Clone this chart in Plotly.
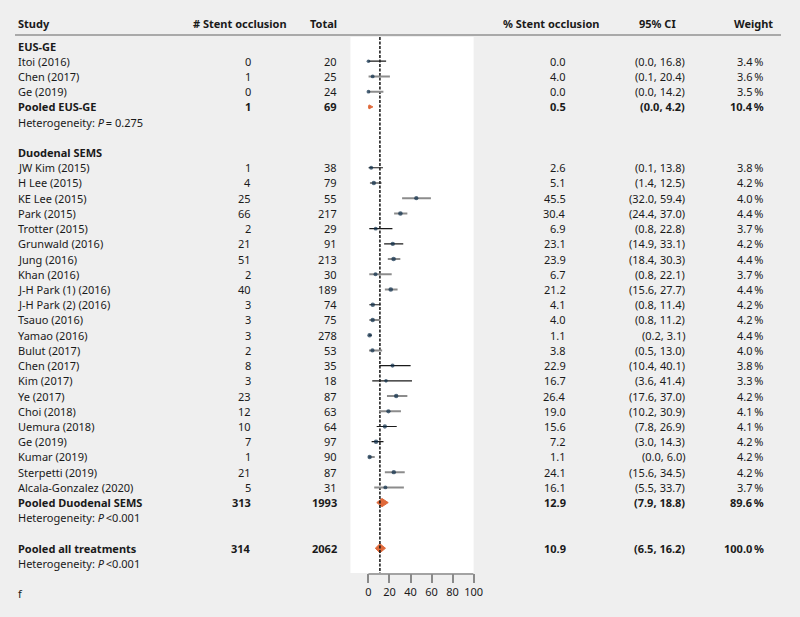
import plotly.graph_objects as go

# ---------------- data ----------------
eus_studies = ["Itoi (2016)", "Chen (2017)", "Ge (2019)"]
eus_events = [0, 1, 0]
eus_totals = [20, 25, 24]
eus_pct = [0.0, 4.0, 0.0]
eus_lo = [0.0, 0.1, 0.0]
eus_hi = [16.8, 20.4, 14.2]
eus_weight = [3.4, 3.6, 3.5]

duo_studies = ["JW Kim (2015)", "H Lee (2015)", "KE Lee (2015)", "Park (2015)", "Trotter (2015)",
               "Grunwald (2016)", "Jung (2016)", "Khan (2016)", "J-H Park (1) (2016)",
               "J-H Park (2) (2016)", "Tsauo (2016)", "Yamao (2016)", "Bulut (2017)",
               "Chen (2017)", "Kim (2017)", "Ye (2017)", "Choi (2018)", "Uemura (2018)",
               "Ge (2019)", "Kumar (2019)", "Sterpetti (2019)", "Alcala-Gonzalez (2020)"]
duo_events = [1, 4, 25, 66, 2, 21, 51, 2, 40, 3, 3, 3, 2, 8, 3, 23, 12, 10, 7, 1, 21, 5]
duo_totals = [38, 79, 55, 217, 29, 91, 213, 30, 189, 74, 75, 278, 53, 35, 18, 87, 63, 64, 97, 90, 87, 31]
duo_pct = [2.6, 5.1, 45.5, 30.4, 6.9, 23.1, 23.9, 6.7, 21.2, 4.1, 4.0, 1.1, 3.8, 22.9, 16.7,
           26.4, 19.0, 15.6, 7.2, 1.1, 24.1, 16.1]
duo_lo = [0.1, 1.4, 32.0, 24.4, 0.8, 14.9, 18.4, 0.8, 15.6, 0.8, 0.8, 0.2, 0.5, 10.4, 3.6,
          17.6, 10.2, 7.8, 3.0, 0.0, 15.6, 5.5]
duo_hi = [13.8, 12.5, 59.4, 37.0, 22.8, 33.1, 30.3, 22.1, 27.7, 11.4, 11.2, 3.1, 13.0, 40.1, 41.4,
          37.0, 30.9, 26.9, 14.3, 6.0, 34.5, 33.7]
duo_weight = [3.8, 4.2, 4.0, 4.4, 3.7, 4.2, 4.4, 3.7, 4.4, 4.2, 4.2, 4.4, 4.0, 3.8, 3.3,
              4.2, 4.1, 4.1, 4.2, 4.2, 4.2, 3.7]

group_names = ["EUS-GE", "Duodenal SEMS"]
pooled_names = ["Pooled EUS-GE", "Pooled Duodenal SEMS", "Pooled all treatments"]
pooled_events = [1, 313, 314]
pooled_totals = [69, 1993, 2062]
pooled_est = [0.5, 12.9, 10.9]
pooled_lo = [0.0, 7.9, 6.5]
pooled_hi = [4.2, 18.8, 16.2]
pooled_weight = [10.4, 89.6, 100.0]
het_p = ["= 0.275", "<0.001", "<0.001"]

x_ticks = [0, 20, 40, 60, 80, 100]

# ---------------- styles ----------------
W, H = 800, 617          # target picture size (layout coordinates below are in these pixels)
FIG_W = 810              # captured page width is slightly wider than 800; fill it
FONT = "Noto Sans"
FS = 11
TXT = "#1a1a1a"
BLACK_CI = "#1a1a1a"
GRAY_CI = "#8c8c8c"
eus_ci_style = ["k", "g", "g"]
duo_ci_style = ["k", "k", "g", "g", "k", "k", "g", "g", "g", "k", "g", "k", "g",
                "k", "k", "g", "g", "k", "k", "g", "g", "g"]
diamond_half = [0.13, 0.27, 0.30]
MARK_COL = "#0b2c48"
DIAMOND_COL = "#e0693a"

ROW0_PX = 46.0
ROW_H = 15.22
PANEL_TOP, PANEL_BOT = 37.0, 573.0
PANEL_L, PANEL_R = 350.0, 473.0


def px_to_row(p):
    return (p - ROW0_PX) / ROW_H


def px(xp):
    return xp / W


def py(yp):
    return 1 - yp / H


fig = go.Figure()
ann = []


def text(x, y, s, anchor="left", bold=False, yref="y"):
    if bold:
        s = "<b>" + s + "</b>"
    ann.append(dict(x=px(x), xref="paper", y=y, yref=yref, text=s, showarrow=False,
                    xanchor=anchor, yanchor="middle", borderpad=0, borderwidth=0,
                    font=dict(family=FONT, size=FS, color=TXT)))


def pct(v):
    return f"{v:.1f}\u2009%"


# headers
hy = py(24)
text(18, hy, "Study", bold=True, yref="paper")
text(287, hy, "# Stent occlusion", "right", True, "paper")
text(337, hy, "Total", "right", True, "paper")
text(598, hy, "% Stent occlusion", "right", True, "paper")
text(675, hy, "95% CI", "right", True, "paper")
text(772, hy, "Weight", "right", True, "paper")
text(18, py(593), "f", yref="paper")

groups = [
    (eus_studies, eus_events, eus_totals, eus_pct, eus_lo, eus_hi, eus_weight, eus_ci_style),
    (duo_studies, duo_events, duo_totals, duo_pct, duo_lo, duo_hi, duo_weight, duo_ci_style),
]

ci_x = {"k": [], "g": []}
ci_y = {"k": [], "g": []}
mx, my, ms = [], [], []
r = 0
pooled_rows = []
het_rows = []
for gi, (names, ev, tot, pc, lo, hi, wt, sty) in enumerate(groups):
    text(18, r, group_names[gi], bold=True)
    r += 1
    for i in range(len(names)):
        text(18, r, names[i])
        text(251, r, str(ev[i]), "right")
        text(337, r, str(tot[i]), "right")
        text(565, r, f"{pc[i]:.1f}", "right")
        text(684, r, f"({lo[i]:.1f}, {hi[i]:.1f})", "right")
        text(763, r, pct(wt[i]), "right")
        ci_x[sty[i]] += [lo[i], hi[i], None]
        ci_y[sty[i]] += [r, r, None]
        mx.append(pc[i]); my.append(r); ms.append(0.6 + wt[i] * 0.9)
        r += 1
    pooled_rows.append(r); r += 1
    het_rows.append(r); r += 2
pooled_rows.append(r); r += 1
het_rows.append(r)

for k in range(3):
    rr = pooled_rows[k]
    text(18, rr, pooled_names[k], bold=True)
    text(251, rr, str(pooled_events[k]), "right", True)
    text(337, rr, str(pooled_totals[k]), "right", True)
    text(565, rr, f"{pooled_est[k]:.1f}", "right", True)
    text(684, rr, f"({pooled_lo[k]:.1f}, {pooled_hi[k]:.1f})", "right", True)
    text(763, rr, pct(pooled_weight[k]), "right", True)
    text(18, het_rows[k], "Heterogeneity: <i>P</i>\u2009" + het_p[k])

    h = diamond_half[k]
    fig.add_trace(go.Scatter(
        x=[pooled_lo[k], pooled_est[k], pooled_hi[k], pooled_est[k], pooled_lo[k]],
        y=[rr, rr - h, rr, rr + h, rr],
        mode="lines", fill="toself", fillcolor=DIAMOND_COL,
        line=dict(color=DIAMOND_COL, width=1), hoverinfo="skip", showlegend=False))

y_top, y_bot = px_to_row(PANEL_TOP), px_to_row(PANEL_BOT)

# reference dashed line at overall pooled estimate
fig.add_trace(go.Scatter(x=[pooled_est[2], pooled_est[2]], y=[y_top, y_bot], mode="lines",
                         line=dict(color="#111111", width=1.5, dash="3px,1.5px"),
                         hoverinfo="skip", showlegend=False))

for key, col, lw in (("g", GRAY_CI, 2.0), ("k", BLACK_CI, 1.2)):
    fig.add_trace(go.Scatter(x=ci_x[key], y=ci_y[key], mode="lines",
                             line=dict(color=col, width=lw), hoverinfo="skip",
                             showlegend=False))

fig.add_trace(go.Scatter(x=mx, y=my, mode="markers",
                         marker=dict(symbol="circle", size=ms, color=MARK_COL,
                                     line=dict(width=0)),
                         showlegend=False))

x_lo = -(368 - PANEL_L) / ((PANEL_R - 368) / 100.0)

shapes = [
    dict(type="line", xref="paper", yref="paper", x0=px(15), x1=px(780), y0=py(35), y1=py(35),
         line=dict(color="#a9a9a9", width=2)),
    dict(type="line", xref="x", yref="paper", x0=x_ticks[0], x1=x_ticks[-1],
         y0=py(574), y1=py(574), line=dict(color="#8a8a8a", width=1.5)),
]

fig.update_layout(
    width=FIG_W, height=H, autosize=False,
    margin=dict(l=0, r=0, t=0, b=0),
    paper_bgcolor="#efefef", plot_bgcolor="#ffffff",
    annotations=ann, shapes=shapes,
    xaxis=dict(domain=[px(PANEL_L), px(PANEL_R)], range=[x_lo, 100], tickvals=x_ticks,
               ticks="outside", ticklen=9, tickwidth=1.5, tickcolor="#8a8a8a",
               showgrid=False, zeroline=False, showline=False, fixedrange=True,
               tickfont=dict(family=FONT, size=FS, color=TXT)),
    yaxis=dict(domain=[py(PANEL_BOT), py(PANEL_TOP)], range=[y_bot, y_top], fixedrange=True,
               showticklabels=False, showgrid=False, zeroline=False, showline=False),
    showlegend=False,
)

post = (
    "document.documentElement.style.margin='0px';"
    "document.body.style.margin='0px';"
    "document.documentElement.style.overflow='hidden';"
    "document.body.style.overflow='hidden';"
    "document.body.style.background='#efefef';"
)

fig.write_html("out.html", config={"displayModeBar": False, "responsive": False},
               post_script=post)
